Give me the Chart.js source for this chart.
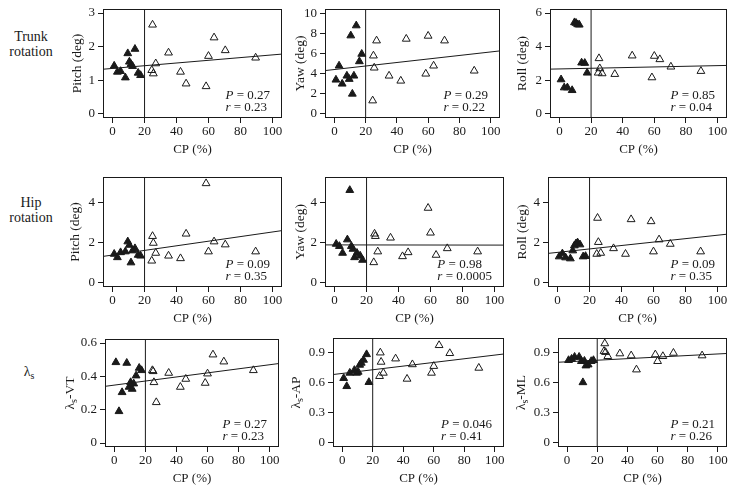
<!DOCTYPE html>
<html>
<head>
<meta charset="utf-8">
<script src="https://cdn.jsdelivr.net/npm/chart.js@4.4.1/dist/chart.umd.min.js"></script>
<style>
  body { margin: 0; width: 736px; height: 493px; position: relative; overflow: hidden; background: #fff;
         font-family: "Liberation Serif", "DejaVu Serif", serif; color: #1a1a1a; }
  canvas { position: absolute; }
  .rowlab { position: absolute; width: 70px; text-align: center; font-size: 14px; line-height: 15px; }
  .rowlab sub { font-size: 10px; vertical-align: -3px; line-height: 0; }
</style>
</head>
<body>
<div class="rowlab" style="left:-4px;top:29px">Trunk<br>rotation</div>
<div class="rowlab" style="left:-4px;top:195px">Hip<br>rotation</div>
<div class="rowlab" style="left:-6px;top:364px">&lambda;<sub>s</sub></div>
<script>
// CP (%) of each subject; filled = below the 20% cut, open = above
const cpLow = [1, 3, 5, 8, 9.5, 10.5, 11.5, 12.5, 14, 16, 17.5];
const cpHigh = [24.5, 25, 25.5, 27, 35, 42.5, 46, 58.5, 60, 63.5, 70.5, 89.5];
const cpCut = 20;
const xTicks = [0, 20, 40, 60, 80, 100];
const xRange = [-6, 106];

// trunk rotation
const trunkPitchLow = [1.43, 1.25, 1.27, 1.08, 1.8, 1.55, 1.48, 1.42, 1.93, 1.22, 1.15];
const trunkPitchHigh = [1.3, 2.65, 1.2, 1.5, 1.82, 1.25, 0.9, 0.82, 1.72, 2.27, 1.89, 1.67];
const trunkPitchFit = [1.33, 1.78];
const trunkYawLow = [3.4, 4.8, 3.0, 3.8, 3.47, 7.8, 2.0, 3.8, 8.8, 5.23, 5.97];
const trunkYawHigh = [1.33, 5.8, 4.6, 7.3, 3.8, 3.3, 7.47, 4.0, 7.77, 4.8, 7.3, 4.3];
const trunkYawFit = [4.32, 6.28];
const trunkRollLow = [2.04, 1.56, 1.56, 1.4, 5.44, 5.4, 5.32, 5.3, 3.04, 3.02, 2.44];
const trunkRollHigh = [2.44, 3.3, 2.7, 2.4, 2.36, null, 3.46, 2.16, 3.44, 3.24, 2.8, 2.54];
const trunkRollFit = [2.66, 2.88];

// hip rotation
const hipPitchLow = [1.43, 1.26, 1.51, 1.55, 2.05, 1.88, 1.0, 1.6, 1.71, 1.38, 1.34];
const hipPitchHigh = [1.09, 2.32, 1.98, 1.48, 1.34, 1.21, 2.44, 4.96, 1.55, 2.05, 1.9, 1.55];
const hipPitchFit = [1.31, 2.6];
const hipYawLow = [1.93, 1.82, 1.48, 2.15, 4.62, 1.82, 1.68, 1.26, 1.48, 1.34, 1.13];
const hipYawHigh = [1.01, 2.44, 2.32, 1.55, 2.24, 1.31, 1.51, 3.73, 2.49, 1.38, 1.71, 1.55];
const hipYawFit = [1.885, 1.875];
const hipRollLow = [1.3, 1.45, 1.25, 1.2, 1.6, 1.85, 1.95, 2.0, 1.9, 1.3, 1.32];
const hipRollHigh = [1.43, 3.23, 2.02, 1.48, 1.71, 1.43, 3.16, 3.06, 1.55, 2.15, 1.93, 1.55];
const hipRollFit = [1.46, 2.42];

// lambda_s
const lsVtLow = [0.484, 0.19, 0.304, 0.48, 0.336, 0.364, 0.324, 0.356, 0.404, 0.45, 0.436];
const lsVtHigh = [0.436, 0.43, 0.364, 0.244, 0.42, 0.336, 0.384, 0.36, 0.416, 0.53, 0.488, 0.436];
const lsVtFit = [0.34, 0.477];
const lsApLow = [0.647, 0.566, 0.70, 0.728, 0.70, 0.71, 0.78, 0.80, 0.83, 0.886, 0.607];
const lsApHigh = [0.667, 0.903, 0.81, 0.70, 0.843, 0.64, 0.785, 0.70, 0.768, 0.977, 0.897, 0.75];
const lsApFit = [0.684, 0.89];
const lsMlLow = [0.827, 0.84, 0.86, 0.86, 0.817, 0.605, 0.82, 0.773, 0.783, 0.817, 0.827];
const lsMlHigh = [0.918, 0.995, 0.908, 0.867, 0.894, 0.874, 0.733, 0.884, 0.817, 0.867, 0.9, 0.874];
const lsMlFit = [0.807, 0.895];

const FAM = '"Liberation Serif", "DejaVu Serif", serif';
const INK = '#1a1a1a';

Chart.defaults.font.family = FAM;
Chart.defaults.font.size = 13;
Chart.defaults.color = INK;

const panels = [
  { box: [103, 9, 282, 118], y: [-0.12, 3.12], ticks: [0, 1, 2, 3], title: [['Pitch (deg)', 0]], gap: 26,
    low: trunkPitchLow, high: trunkPitchHigh, fit: trunkPitchFit, stat: ['0.27', '0.23'] },
  { box: [325, 9, 500, 118], y: [-0.4, 10.45], ticks: [0, 2, 4, 6, 8, 10], title: [['Yaw (deg)', 0]], gap: 25,
    low: trunkYawLow, high: trunkYawHigh, fit: trunkYawFit, stat: ['0.29', '0.22'] },
  { box: [550, 9, 727, 118], y: [-0.25, 6.24], ticks: [0, 2, 4, 6], title: [['Roll (deg)', 0]], gap: 28,
    low: trunkRollLow, high: trunkRollHigh, fit: trunkRollFit, stat: ['0.85', '0.04'] },
  { box: [103, 177, 282, 287], y: [-0.22, 5.28], ticks: [0, 2, 4], title: [['Pitch (deg)', 0]], gap: 28,
    low: hipPitchLow, high: hipPitchHigh, fit: hipPitchFit, stat: ['0.09', '0.35'] },
  { box: [325, 177, 504, 287], y: [-0.22, 5.28], ticks: [0, 2, 4], title: [['Yaw (deg)', 0]], gap: 25,
    low: hipYawLow, high: hipYawHigh, fit: hipYawFit, stat: ['0.98', '0.0005'] },
  { box: [548, 177, 727, 287], y: [-0.22, 5.28], ticks: [0, 2, 4], title: [['Roll (deg)', 0]], gap: 26,
    low: hipRollLow, high: hipRollHigh, fit: hipRollFit, stat: ['0.09', '0.35'] },
  { box: [105, 339, 279, 447], y: [-0.024, 0.624], ticks: [0, 0.2, 0.4, 0.6], title: [['λ', 0], ['s', 1], ['-VT', 0]], gap: 35,
    low: lsVtLow, high: lsVtHigh, fit: lsVtFit, stat: ['0.27', '0.23'] },
  { box: [333, 338, 504, 447], y: [-0.042, 1.05], ticks: [0, 0.3, 0.6, 0.9], title: [['λ', 0], ['s', 1], ['-AP', 0]], gap: 37,
    low: lsApLow, high: lsApHigh, fit: lsApFit, stat: ['0.046', '0.41'] },
  { box: [558, 338, 727, 447], y: [-0.042, 1.05], ticks: [0, 0.3, 0.6, 0.9], title: [['λ', 0], ['s', 1], ['-ML', 0]], gap: 37,
    low: lsMlLow, high: lsMlHigh, fit: lsMlFit, stat: ['0.21', '0.26'] },
];

// box around plot area, rotated y title with subscript, P / r text
const panelText = {
  id: 'panelText',
  afterDraw(chart, args, opts) {
    const { ctx, chartArea: a } = chart;
    ctx.save();
    ctx.strokeStyle = INK;
    ctx.lineWidth = 1;
    ctx.strokeRect(a.left + 0.5, a.top + 0.5, a.right - a.left - 1, a.bottom - a.top - 1);

    ctx.fillStyle = INK;
    ctx.textBaseline = 'middle';
    ctx.save();
    ctx.translate(a.left - opts.gap, (a.top + a.bottom) / 2);
    ctx.rotate(-Math.PI / 2);
    let total = 0;
    opts.title.forEach(([t, sub]) => {
      ctx.font = (sub ? '10px ' : '13.5px ') + FAM;
      total += ctx.measureText(t).width;
    });
    let tx = -total / 2;
    opts.title.forEach(([t, sub]) => {
      ctx.font = (sub ? '10px ' : '13.5px ') + FAM;
      ctx.fillText(t, tx, sub ? 4 : 0);
      tx += ctx.measureText(t).width;
    });
    ctx.restore();

    const lines = [['P', opts.stat[0]], ['r', opts.stat[1]]];
    const widths = lines.map(([l, v]) => {
      ctx.font = 'italic 13px ' + FAM;
      const w = ctx.measureText(l).width;
      ctx.font = '13px ' + FAM;
      return w + ctx.measureText(' = ' + v).width;
    });
    const x0 = a.right - 12 - Math.max(...widths);
    lines.forEach(([l, v], i) => {
      const y = a.bottom - 22 + i * 11.5;
      ctx.font = 'italic 13px ' + FAM;
      ctx.fillText(l, x0, y);
      const w = ctx.measureText(l).width;
      ctx.font = '13px ' + FAM;
      ctx.fillText(' = ' + v, x0 + w, y);
    });
    ctx.restore();
  }
};

const axisW = 50, axisH = 39, padTop = 10, padRight = 14;

panels.forEach(p => {
  const [l, t, r, b] = p.box;
  const cv = document.createElement('canvas');
  cv.width = axisW + (r - l) + padRight;
  cv.height = padTop + (b - t) + axisH;
  cv.style.left = (l - axisW) + 'px';
  cv.style.top = (t - padTop) + 'px';
  document.body.appendChild(cv);

  const pts = (xs, ys) => xs.map((x, i) => ({ x, y: ys[i] })).filter(d => d.y !== null);

  new Chart(cv, {
    type: 'scatter',
    data: {
      datasets: [
        { data: pts(cpLow, p.low), pointStyle: 'triangle', pointRadius: 4.5,
          backgroundColor: INK, borderColor: INK, borderWidth: 1 },
        { data: pts(cpHigh, p.high), pointStyle: 'triangle', pointRadius: 4.5,
          backgroundColor: 'rgba(0,0,0,0)', borderColor: INK, borderWidth: 1 },
        { data: [{ x: xRange[0], y: p.fit[0] }, { x: xRange[1], y: p.fit[1] }], showLine: true,
          pointRadius: 0, borderColor: INK, borderWidth: 1 },
        { data: [{ x: cpCut, y: p.y[0] }, { x: cpCut, y: p.y[1] }], showLine: true,
          pointRadius: 0, borderColor: INK, borderWidth: 1 },
      ]
    },
    options: {
      responsive: false,
      animation: false,
      events: [],
      layout: { padding: { top: padTop, right: padRight, left: 0, bottom: 0 } },
      plugins: {
        legend: { display: false },
        tooltip: { enabled: false },
        panelText: { title: p.title, gap: p.gap, stat: p.stat }
      },
      scales: {
        x: {
          type: 'linear', min: xRange[0], max: xRange[1],
          afterBuildTicks: s => { s.ticks = xTicks.map(v => ({ value: v })); },
          afterFit: s => { s.height = axisH; s.paddingLeft = 0; s.paddingRight = 0; },
          grid: { drawOnChartArea: false, drawTicks: true, tickLength: 5, color: INK },
          border: { display: false },
          ticks: { padding: 1, autoSkip: false, maxRotation: 0, callback: v => String(v) },
          title: { display: true, text: 'CP (%)', font: { size: 13 }, padding: { top: 0, bottom: 0 } }
        },
        y: {
          type: 'linear', min: p.y[0], max: p.y[1],
          afterBuildTicks: s => { s.ticks = p.ticks.map(v => ({ value: v })); },
          afterFit: s => { s.width = axisW; s.paddingTop = 0; s.paddingBottom = 0; },
          grid: { drawOnChartArea: false, drawTicks: true, tickLength: 5, color: INK },
          border: { display: false },
          ticks: { padding: 3, autoSkip: false, callback: v => String(v) }
        }
      }
    },
    plugins: [panelText]
  });
});
</script>
</body>
</html>
